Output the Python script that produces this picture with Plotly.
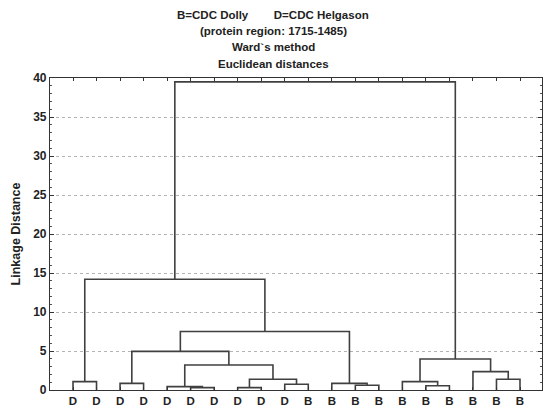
import plotly.graph_objects as go

# Leaf labels in dendrogram order (B=CDC Dolly, D=CDC Helgason)
leaf_labels = ["D", "D", "D", "D", "D", "D", "D", "D", "D", "D",
               "B", "B", "B", "B", "B", "B", "B", "B", "B", "B"]

# Ward linkage merges: (left node, right node, linkage distance)
# nodes 0..19 are leaves; merge k creates node 20 + k
merge_left = [0, 2, 5, 4, 7, 9, 24, 23, 21, 12, 11, 28, 20, 15, 14, 18, 17, 34, 32]
merge_right = [1, 3, 6, 22, 8, 10, 25, 26, 27, 13, 29, 30, 31, 16, 33, 19, 35, 36, 37]
merge_height = [1.07, 0.85, 0.3, 0.43, 0.3, 0.73, 1.37, 3.2, 4.95, 0.6,
                0.85, 7.5, 14.2, 0.55, 1.07, 1.37, 2.35, 3.98, 39.5]

y_ticks = [0, 5, 10, 15, 20, 25, 30, 35, 40]

n_leaves = len(leaf_labels)
pos = {i: i + 1 for i in range(n_leaves)}
hgt = {i: 0.0 for i in range(n_leaves)}

xs, ys = [], []
for k, (a, b, h) in enumerate(zip(merge_left, merge_right, merge_height)):
    xa, xb = pos[a], pos[b]
    xs += [xa, xa, xb, xb, None]
    ys += [hgt[a], h, h, hgt[b], None]
    node = n_leaves + k
    pos[node] = (xa + xb) / 2
    hgt[node] = h

fig = go.Figure()
fig.add_trace(go.Scatter(x=xs, y=ys, mode="lines",
                         line=dict(color="#404040", width=1.6),
                         hoverinfo="skip", showlegend=False))

bold = "Liberation Sans"
title_lines = [
    "B=CDC Dolly&nbsp;&nbsp;&nbsp;&nbsp;&nbsp;&nbsp;&nbsp;&nbsp;D=CDC Helgason",
    "(protein region: 1715-1485)",
    "Ward`s method",
    "Euclidean distances",
]
title_y = [15, 31, 47, 64]
for txt, yp in zip(title_lines, title_y):
    fig.add_annotation(text="<b>" + txt + "</b>", xref="paper", yref="paper",
                       x=(273 - 50) / 492, y=(390 - yp) / 312,
                       xanchor="center", yanchor="middle", showarrow=False,
                       font=dict(family=bold, size=11.5, color="#222"))

fig.update_layout(
    width=544, height=409,
    margin=dict(l=50, r=2, t=78, b=19),
    paper_bgcolor="white", plot_bgcolor="white",
    font=dict(family=bold, size=11, color="#222"),
    xaxis=dict(
        range=[0.022, 20.935],
        tickvals=list(range(1, n_leaves + 1)),
        ticktext=["<b>" + t + "</b>" for t in leaf_labels],
        ticks="inside", ticklen=3, tickcolor="#333",
        showline=True, linecolor="#333", linewidth=1.2, mirror="ticks",
        showgrid=False, zeroline=False,
        tickfont=dict(family=bold, size=11.5, color="#222"),
    ),
    yaxis=dict(
        range=[0, 40],
        tickvals=y_ticks,
        ticktext=["<b>%d</b>" % v for v in y_ticks],
        ticks="inside", ticklen=4, tickcolor="#333",
        showline=True, linecolor="#333", linewidth=1.2, mirror="ticks",
        showgrid=True, gridcolor="#b4b4b4", griddash="dot", gridwidth=1,
        zeroline=False,
        minor=dict(dtick=1, ticks="inside", ticklen=2, tickcolor="#555", showgrid=False),
        tickfont=dict(family=bold, size=12, color="#222"),
        title=dict(text="<b>Linkage Distance</b>", standoff=9,
                   font=dict(family=bold, size=12.5, color="#222")),
    ),
)

fig.write_html("out.html")
